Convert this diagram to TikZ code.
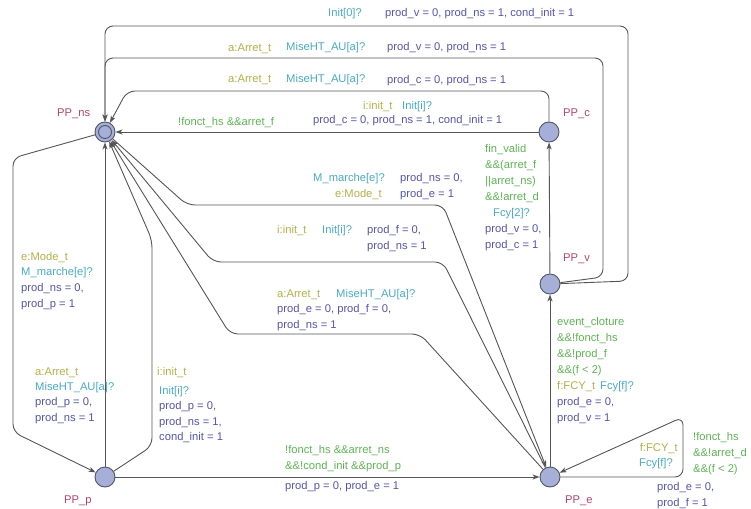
\documentclass[tikz,border=0pt]{standalone}
\usepackage{fontspec}
\setmainfont{Liberation Sans}
\usetikzlibrary{arrows.meta}
\definecolor{locname}{RGB}{175,70,110}
\definecolor{guardc}{RGB}{95,180,85}
\definecolor{syncc}{RGB}{75,170,195}
\definecolor{selc}{RGB}{180,175,75}
\definecolor{updc}{RGB}{85,85,170}
\definecolor{locfill}{RGB}{165,175,215}
\definecolor{locdraw}{RGB}{80,85,105}
\definecolor{edgec}{RGB}{85,85,85}
\newcommand\lblfont{\fontsize{11.2}{16}\selectfont}
\tikzset{
  loc/.style={circle, draw=locdraw, line width=0.9pt, fill=locfill, minimum size=20pt, inner sep=0pt},
  locin/.style={circle, draw=locdraw, line width=0.9pt, fill=locfill, minimum size=13pt, inner sep=0pt},
  edge/.style={draw=edgec, line width=0.9pt, rounded corners=8pt, -{Stealth[length=7pt,width=5pt,inset=2pt]}},
  t/.style={anchor=north west, inner sep=0pt, yshift=4.6pt, font=\lblfont, align=left},
  gd/.style={t, text=guardc},
  sy/.style={t, text=syncc},
  se/.style={t, text=selc},
  up/.style={t, text=updc},
  nm/.style={t, text=locname},
}
\begin{document}
\begin{tikzpicture}[x=1pt,y=-1pt]
\useasboundingbox[fill=white] (0,0) rectangle (751,508);

% locations
\node[loc] (ns) at (105,132) {};
\node[locin] (nsin) at (105,132) {};
\node[loc] (c) at (549,132) {};
\node[loc] (v) at (550,284) {};
\node[loc] (e) at (550,477) {};
\node[loc] (p) at (105,477) {};

% location names
\node[nm] (nns) at (57,113) {PP\_ns};
\node[nm] (nc) at (563,113) {PP\_c};
\node[nm] (nv) at (563,258) {PP\_v};
\node[nm] (np) at (64,500) {PP\_p};
\node[nm] (ne) at (565,500) {PP\_e};

% edges
\draw[edge] (v) -- (628,281) -- (628,26) -- (105,26) -- (ns);
\draw[edge] (v) -- (603,277) -- (603,58) -- (105,58) -- (ns);
\draw[edge] (c) -- (549,91) -- (127,91) -- (ns);
\draw[edge] (c) -- (ns);
\draw[edge] (v) -- (c);
\draw[edge] (e) -- (v);
\draw[edge] (e) -- (683,477) -- (683,417) -- (e);
\draw[edge] (p) -- (e);
\draw[edge] (ns) -- (13,158) -- (13,432) -- (p);
\draw[edge] (p) -- (ns);
\draw[edge] (p) -- (152,446) -- (152,240) -- (ns);
\draw[edge] (ns) -- (187,205) -- (443,205) -- (e);
\draw[edge] (e) -- (443,262) -- (213,262) -- (ns);
\draw[edge] (e) -- (420,334) -- (230,334) -- (ns);

% labels: PP_v -> PP_ns (outer)
\node[sy] (s1) at (328,13) {Init[0]?};
\node[up] (u1) at (385,13) {prod\_v = 0, prod\_ns = 1, cond\_init = 1};
% PP_v -> PP_ns
\node[se] (l2) at (228,48) {a:Arret\_t};
\node[sy] (s2) at (286,47) {MiseHT\_AU[a]?};
\node[up] (u2) at (387,47) {prod\_v = 0, prod\_ns = 1};
% PP_c -> PP_ns (top)
\node[se] (l3) at (228,79) {a:Arret\_t};
\node[sy] (s3) at (286,79) {MiseHT\_AU[a]?};
\node[up] (u3) at (387,80) {prod\_c = 0, prod\_ns = 1};
% PP_c -> PP_ns (direct)
\node[se] (l4) at (363,106) {i:init\_t};
\node[sy] (s4) at (402,106) {Init[i]?};
\node[up] (u4) at (313,120) {prod\_c = 0, prod\_ns = 1, cond\_init = 1};
\node[gd] (g4) at (178,122) {!fonct\_hs \&\&arret\_f};
% PP_v -> PP_c
\node[gd] (g5) at (485,149) {fin\_valid\\\&\&(arret\_f\\||arret\_ns)\\\&\&!arret\_d};
\node[sy] (s5) at (493,213) {Fcy[2]?};
\node[up] (u5) at (485,229) {prod\_v = 0,\\prod\_c = 1};
% PP_ns -> PP_e (M_marche)
\node[sy, anchor=north east] (s6) at (385,178) {M\_marche[e]?};
\node[se, anchor=north east] (l6) at (382,194) {e:Mode\_t};
\node[up] (u6) at (400,178) {prod\_ns = 0,\\prod\_e = 1};
% PP_e -> PP_ns (Init)
\node[se] (l7) at (277,230) {i:init\_t};
\node[sy] (s7) at (322,230) {Init[i]?};
\node[up] (u7) at (367,230) {prod\_f = 0,\\prod\_ns = 1};
% PP_e -> PP_ns (MiseHT)
\node[se] (l8) at (277,294) {a:Arret\_t};
\node[sy] (s8) at (336,294) {MiseHT\_AU[a]?};
\node[up] (u8) at (277,309) {prod\_e = 0, prod\_f = 0,\\prod\_ns = 1};
% PP_ns -> PP_p (left loop)
\node[se] (l9) at (21,257) {e:Mode\_t};
\node[sy] (s9) at (21,272) {M\_marche[e]?};
\node[up] (u9) at (21,288) {prod\_ns = 0,\\prod\_p = 1};
% PP_p -> PP_ns (vertical)
\node[se] (l10) at (35,372) {a:Arret\_t};
\node[sy] (s10) at (35,387) {MiseHT\_AU[a]?};
\node[up] (u10) at (35,402) {prod\_p = 0,\\prod\_ns = 1};
% PP_p -> PP_ns (init)
\node[se] (l11) at (157,372) {i:init\_t};
\node[sy] (s11) at (159,391) {Init[i]?};
\node[up, font=\fontsize{11.2}{15.5}\selectfont] (u11) at (159,406) {prod\_p = 0,\\prod\_ns = 1,\\cond\_init = 1};
% PP_p -> PP_e
\node[gd] (g12) at (285,450) {!fonct\_hs \&\&arret\_ns\\\&\&!cond\_init \&\&prod\_p};
\node[up] (u12) at (285,486) {prod\_p = 0, prod\_e = 1};
% PP_e -> PP_v
\node[gd] (g13) at (557,322) {event\_cloture\\\&\&!fonct\_hs\\\&\&!prod\_f\\\&\&(f < 2)};
\node[se] (l13) at (557,386) {f:FCY\_t};
\node[sy] (s13) at (600,386) {Fcy[f]?};
\node[up] (u13) at (557,402) {prod\_e = 0,\\prod\_v = 1};
% PP_e self loop
\node[se, anchor=north east] (l14) at (678,448) {f:FCY\_t};
\node[sy] (s14) at (639,463) {Fcy[f]?};
\node[gd] (g14) at (693,437) {!fonct\_hs\\\&\&!arret\_d\\\&\&(f < 2)};
\node[up] (u14) at (657,487) {prod\_e = 0,\\prod\_f = 1};
\end{tikzpicture}
\end{document}
